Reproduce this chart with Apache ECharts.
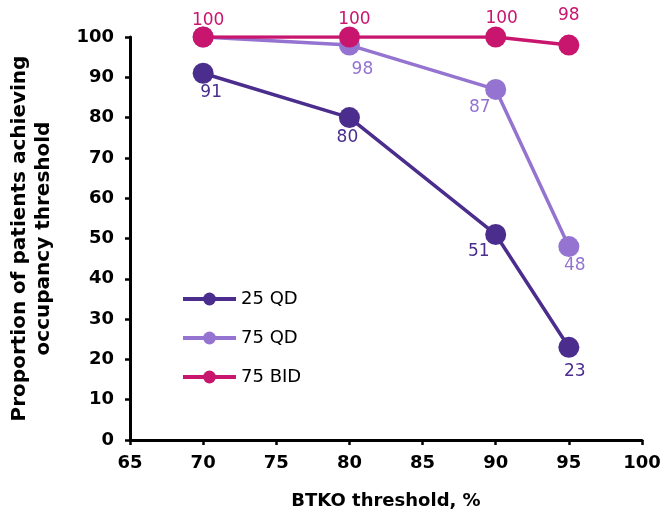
<!DOCTYPE html>
<html><head><meta charset="utf-8">
<script src="https://cdn.jsdelivr.net/npm/echarts@6/dist/echarts.min.js"></script>
<style>html,body{margin:0;padding:0;background:#fff}#c{width:664px;height:516px}</style>
</head><body><div id="c"></div>
<script>
const thresholds = [70, 80, 90, 95];
const qd25 = [91, 80, 51, 23];
const qd75 = [100, 98, 87, 48];
const bid75 = [100, 100, 100, 98];
const seriesNames = ['25 QD', '75 QD', '75 BID'];
const xTicks = [65, 70, 75, 80, 85, 90, 95, 100];
const yTicks = [0, 10, 20, 30, 40, 50, 60, 70, 80, 90, 100];

const colors = ['#4B2D8E', '#9474D0', '#C8166E'];
const F = 'DejaVu Sans, Verdana, sans-serif';

// label offsets (dx, dy) from the point centre, null = no label
const off25 = [[8, 19], [-2, 20], [-17, 17], [6, 24]];
const off75 = [null, [13, 25], [-16, 18], [6, 19]];
const offBid = [[5, -16], [5, -17], [6, -18], [0, -29]];

function pts(vals, offs, c) {
  return thresholds.map((x, i) => {
    const d = { value: [x, vals[i]] };
    d.label = offs[i]
      ? { show: true, position: 'inside', offset: offs[i], color: c, fontSize: 17, fontFamily: F }
      : { show: false };
    return d;
  });
}

const axisFont = { fontSize: 18, fontWeight: 'bold', fontFamily: F, color: '#000' };

const chart = echarts.init(document.getElementById('c'));
chart.setOption({
  animation: false,
  grid: { left: 130, right: 22, top: 37, bottom: 76, containLabel: false, outerBoundsMode: 'none' },
  legend: {
    orient: 'vertical', left: 176, top: 285, itemWidth: 53, itemHeight: 16, itemGap: 21,
    lineStyle: { width: 4 },
    textStyle: { fontSize: 18, fontFamily: F, color: '#000' },
    data: seriesNames
  },
  xAxis: {
    type: 'value', min: 65, max: 100, interval: 5,
    name: 'BTKO threshold, %', nameLocation: 'middle', nameGap: 52,
    nameTextStyle: { fontSize: 18, fontWeight: 'bold', fontFamily: F, color: '#000' },
    axisLine: { lineStyle: { color: '#000', width: 3 } },
    axisTick: { show: true, length: 5, lineStyle: { color: '#000', width: 2.5 } },
    axisLabel: Object.assign({ margin: 14 }, axisFont),
    splitLine: { show: false }
  },
  yAxis: {
    type: 'value', min: 0, max: 100, interval: 10,
    name: 'Proportion of patients achieving\noccupancy threshold', nameLocation: 'middle', nameGap: 74,
    nameTextStyle: { fontSize: 20, fontWeight: 'bold', fontFamily: F, color: '#000', lineHeight: 24 },
    axisLine: { show: true, lineStyle: { color: '#000', width: 3 } },
    axisTick: { show: true, length: 5, lineStyle: { color: '#000', width: 2.5 } },
    axisLabel: Object.assign({ margin: 16 }, axisFont),
    splitLine: { show: false }
  },
  series: [
    { name: seriesNames[0], type: 'line', color: colors[0], symbol: 'circle', symbolSize: 21,
      lineStyle: { width: 3.5 }, z: 3, data: pts(qd25, off25, colors[0]) },
    { name: seriesNames[1], type: 'line', color: colors[1], symbol: 'circle', symbolSize: 21,
      lineStyle: { width: 3.5 }, z: 4, data: pts(qd75, off75, colors[1]) },
    { name: seriesNames[2], type: 'line', color: colors[2], symbol: 'circle', symbolSize: 21,
      lineStyle: { width: 3.5 }, z: 5, data: pts(bid75, offBid, colors[2]) }
  ]
});
</script></body></html>
